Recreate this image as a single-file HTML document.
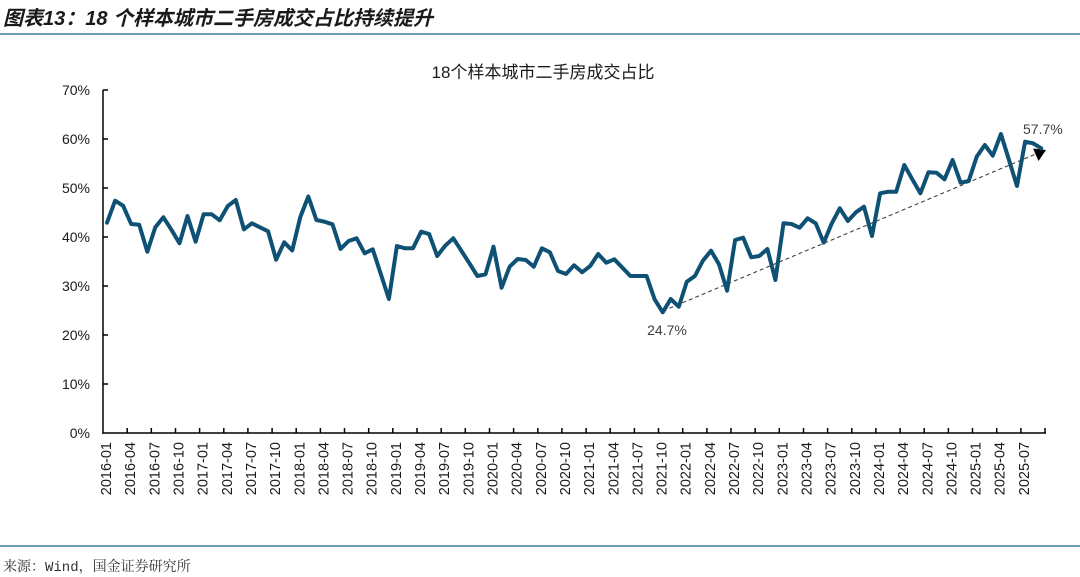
<!DOCTYPE html>
<html>
<head>
<meta charset="utf-8">
<style>
  html,body{margin:0;padding:0;background:#fff;}
  body{width:1080px;height:577px;overflow:hidden;position:relative;}
  svg{position:absolute;left:0;top:0;}
</style>
</head>
<body>
<svg width="1080" height="577" viewBox="0 0 1080 577" xmlns="http://www.w3.org/2000/svg">
  <!-- header -->
  <text x="3" y="25" font-family="'Liberation Sans','Noto Sans CJK SC',sans-serif" font-size="20" font-weight="bold" font-style="italic" fill="#1a1a1a">图表13：18 个样本城市二手房成交占比持续提升</text>
  <line x1="0" y1="34" x2="1080" y2="34" stroke="#3e7a9c" stroke-width="1.5"/>

  <!-- chart title -->
  <text x="543" y="78" text-anchor="middle" font-family="'Liberation Sans','Noto Sans CJK SC',sans-serif" font-size="17" fill="#1a1a1a">18个样本城市二手房成交占比</text>

  <!-- y axis labels -->
  <g font-family="'Liberation Sans',sans-serif" font-size="14" fill="#1a1a1a" text-anchor="end">
    <text x="90" y="95">70%</text>
    <text x="90" y="144">60%</text>
    <text x="90" y="193">50%</text>
    <text x="90" y="242">40%</text>
    <text x="90" y="291">30%</text>
    <text x="90" y="340">20%</text>
    <text x="90" y="389">10%</text>
    <text x="90" y="438">0%</text>
  </g>

  <!-- axes -->
  <g stroke="#000" stroke-width="1.5" fill="none">
    <line x1="103" y1="90" x2="103" y2="433.7"/>
    <line x1="102.3" y1="433" x2="1046" y2="433"/>
    <!-- y ticks (inside) -->
    <path d="M103 90h5M103 139h5M103 188h5M103 237h5M103 286h5M103 335h5M103 384h5"/>
    <!-- x ticks (inside) -->
    <path d="M127.2 433v-5M151.3 433v-5M175.5 433v-5M199.6 433v-5M223.8 433v-5M247.9 433v-5M272.1 433v-5M296.2 433v-5M320.4 433v-5M344.5 433v-5M368.7 433v-5M392.8 433v-5M417 433v-5M441.2 433v-5M465.3 433v-5M489.5 433v-5M513.6 433v-5M537.8 433v-5M561.9 433v-5M586.1 433v-5M610.2 433v-5M634.4 433v-5M658.5 433v-5M682.7 433v-5M706.9 433v-5M731 433v-5M755.2 433v-5M779.3 433v-5M803.5 433v-5M827.6 433v-5M851.8 433v-5M875.9 433v-5M900.1 433v-5M924.2 433v-5M948.4 433v-5M972.5 433v-5M996.7 433v-5M1020.9 433v-5M1045 433v-5"/>
  </g>

  <!-- x labels -->
  <g font-family="'Liberation Sans',sans-serif" font-size="14.5" fill="#1a1a1a" text-anchor="end" dominant-baseline="central">
    <text transform="translate(107,442) rotate(-90)">2016-01</text>
    <text transform="translate(131.2,442) rotate(-90)">2016-04</text>
    <text transform="translate(155.3,442) rotate(-90)">2016-07</text>
    <text transform="translate(179.5,442) rotate(-90)">2016-10</text>
    <text transform="translate(203.6,442) rotate(-90)">2017-01</text>
    <text transform="translate(227.8,442) rotate(-90)">2017-04</text>
    <text transform="translate(251.9,442) rotate(-90)">2017-07</text>
    <text transform="translate(276.1,442) rotate(-90)">2017-10</text>
    <text transform="translate(300.3,442) rotate(-90)">2018-01</text>
    <text transform="translate(324.4,442) rotate(-90)">2018-04</text>
    <text transform="translate(348.6,442) rotate(-90)">2018-07</text>
    <text transform="translate(372.7,442) rotate(-90)">2018-10</text>
    <text transform="translate(396.9,442) rotate(-90)">2019-01</text>
    <text transform="translate(421,442) rotate(-90)">2019-04</text>
    <text transform="translate(445.2,442) rotate(-90)">2019-07</text>
    <text transform="translate(469.3,442) rotate(-90)">2019-10</text>
    <text transform="translate(493.5,442) rotate(-90)">2020-01</text>
    <text transform="translate(517.7,442) rotate(-90)">2020-04</text>
    <text transform="translate(541.8,442) rotate(-90)">2020-07</text>
    <text transform="translate(566,442) rotate(-90)">2020-10</text>
    <text transform="translate(590.1,442) rotate(-90)">2021-01</text>
    <text transform="translate(614.3,442) rotate(-90)">2021-04</text>
    <text transform="translate(638.4,442) rotate(-90)">2021-07</text>
    <text transform="translate(662.6,442) rotate(-90)">2021-10</text>
    <text transform="translate(686.7,442) rotate(-90)">2022-01</text>
    <text transform="translate(710.9,442) rotate(-90)">2022-04</text>
    <text transform="translate(735,442) rotate(-90)">2022-07</text>
    <text transform="translate(759.2,442) rotate(-90)">2022-10</text>
    <text transform="translate(783.4,442) rotate(-90)">2023-01</text>
    <text transform="translate(807.5,442) rotate(-90)">2023-04</text>
    <text transform="translate(831.7,442) rotate(-90)">2023-07</text>
    <text transform="translate(855.8,442) rotate(-90)">2023-10</text>
    <text transform="translate(880,442) rotate(-90)">2024-01</text>
    <text transform="translate(904.1,442) rotate(-90)">2024-04</text>
    <text transform="translate(928.3,442) rotate(-90)">2024-07</text>
    <text transform="translate(952.4,442) rotate(-90)">2024-10</text>
    <text transform="translate(976.6,442) rotate(-90)">2025-01</text>
    <text transform="translate(1000.7,442) rotate(-90)">2025-04</text>
    <text transform="translate(1024.9,442) rotate(-90)">2025-07</text>
  </g>

  <!-- trend dashed line with arrow -->
  <line x1="663" y1="311" x2="1037" y2="153.5" stroke="#404040" stroke-width="1.1" stroke-dasharray="4,3"/>
  <polygon points="1046,150 1033,148.5 1038.5,161" fill="#000"/>

  <!-- data line -->
  <polyline fill="none" stroke="#0e5174" stroke-width="4" stroke-linejoin="round" stroke-linecap="round" points="
107,222.7 115.1,200.7 123.1,205.7 131.2,224 139.2,224.7 147.3,251.7 155.3,227.3 163.4,217.3 171.4,229.7 179.5,243.3
187.5,216 195.6,241.7 203.6,214.3 211.7,214.3 219.7,220.3 227.8,206 235.8,200 243.9,229.3 251.9,223.3 260,227.3
268.1,231.3 276.1,259.7 284.2,242.3 292.2,250.5 300.3,217 308.3,196.5 316.4,220 324.4,221.7 332.5,224.3 340.5,249
348.6,241 356.6,238.3 364.7,253.3 372.7,249.3 380.8,274 388.9,299 396.9,246 405,248.3 413,248.3 421.1,231.7
429.1,234 437.2,256 445.2,245.7 453.3,238.3 461.3,250.7 469.4,263.3 477.4,276 485.5,274.3 493.5,246.7 501.6,287.7
509.6,266.7 517.7,259 525.8,260 533.8,266.7 541.9,248.3 549.9,252.3 558,271 566,274 574.1,265.3 582.1,272.3
590.2,266 598.2,254 606.3,262.7 614.3,259.3 622.4,267.7 630.4,276 638.5,276 646.6,276 654.6,299.3 662.7,312.3
670.7,299 678.8,306.7 686.8,281.7 694.9,276 702.9,260.7 711,250.7 719,264.3 727.1,290.7 735.1,240 743.2,237.7
751.2,257.3 759.3,256 767.4,249 775.4,280 783.5,223.3 791.5,224 799.6,227.7 807.6,218.3 815.7,223.3 823.7,242.7
831.8,223.3 839.8,208.3 847.9,221 855.9,212.3 864,206.7 872,236 880.1,193.3 888.2,191.7 896.2,191.7 904.3,165
912.3,179.3 920.4,193.3 928.4,172.3 936.5,172.7 944.5,179.3 952.6,160 960.6,182.7 968.7,181 976.7,156.7 984.8,145
992.8,155.7 1000.9,134 1009,160 1017,186 1025.1,141.7 1033.1,143.3 1041.2,148.3"/>

  <!-- data labels -->
  <g font-family="'Liberation Sans',sans-serif" font-size="14" fill="#404040">
    <text x="667" y="335" text-anchor="middle">24.7%</text>
    <text x="1023" y="134">57.7%</text>
  </g>

  <!-- footer -->
  <line x1="0" y1="546" x2="1080" y2="546" stroke="#3e7a9c" stroke-width="1.5"/>
  <text x="3" y="571" font-family="'Liberation Mono','Noto Serif CJK SC',serif" font-size="14" fill="#333">来源：Wind，国金证券研究所</text>
</svg>
</body>
</html>
